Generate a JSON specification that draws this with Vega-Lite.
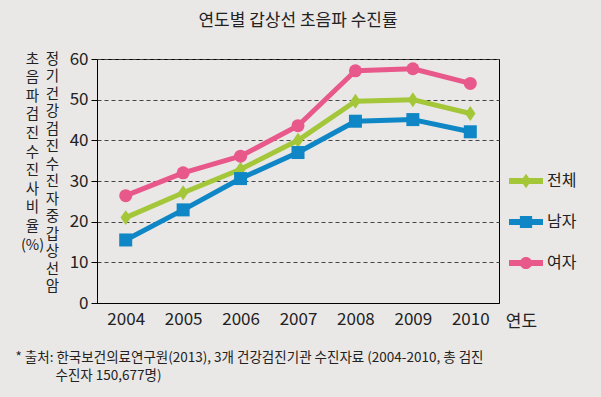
{
  "$schema": "https://vega.github.io/schema/vega-lite/v6.json",
  "width": 402,
  "height": 244,
  "autosize": {"type": "none"},
  "padding": {"left": 97, "top": 59, "right": 102, "bottom": 94},
  "background": "#e9e8e6",
  "title": {"text": "연도별 갑상선 초음파 수진률", "fontSize": 17, "font": "Noto Sans CJK KR", "fontWeight": "normal", "color": "#222222", "anchor": "middle", "offset": 20},
  "config": {"view": {"stroke": "#000000", "strokeWidth": 1}, "font": "Noto Sans CJK KR"},
  "data": {"values": [
    {"year": 2004, "group": "전체", "value": 21.0},
    {"year": 2005, "group": "전체", "value": 27.1},
    {"year": 2006, "group": "전체", "value": 32.9},
    {"year": 2007, "group": "전체", "value": 40.0},
    {"year": 2008, "group": "전체", "value": 49.6},
    {"year": 2009, "group": "전체", "value": 50.0},
    {"year": 2010, "group": "전체", "value": 46.6},
    {"year": 2004, "group": "남자", "value": 15.5},
    {"year": 2005, "group": "남자", "value": 22.9},
    {"year": 2006, "group": "남자", "value": 30.6},
    {"year": 2007, "group": "남자", "value": 37.0},
    {"year": 2008, "group": "남자", "value": 44.7},
    {"year": 2009, "group": "남자", "value": 45.1},
    {"year": 2010, "group": "남자", "value": 42.1},
    {"year": 2004, "group": "여자", "value": 26.4},
    {"year": 2005, "group": "여자", "value": 32.0},
    {"year": 2006, "group": "여자", "value": 36.1},
    {"year": 2007, "group": "여자", "value": 43.6},
    {"year": 2008, "group": "여자", "value": 57.1},
    {"year": 2009, "group": "여자", "value": 57.6},
    {"year": 2010, "group": "여자", "value": 54.0}
  ]},
  "layer": [
    {
      "mark": {"type": "line", "strokeWidth": 5, "strokeJoin": "round", "strokeCap": "round"},
      "encoding": {
        "x": {"field": "year", "type": "quantitative", "scale": {"domain": [2003.5, 2010.5], "nice": false, "zero": false},
          "axis": {"orient": "bottom", "values": [2004, 2005, 2006, 2007, 2008, 2009, 2010], "format": "d", "ticks": false, "grid": false, "domain": true, "domainColor": "#000000", "labelFontSize": 17, "labelColor": "#222222", "labelPadding": 8, "labelFlush": false, "labelOverlap": false,
            "title": "연도", "titleFontSize": 17, "titleFontWeight": "normal", "titleColor": "#222222", "titleX": 424, "titleY": 18, "titleBaseline": "middle", "titleAlign": "center", "titleAnchor": null}},
        "y": {"field": "value", "type": "quantitative", "scale": {"domain": [0, 60], "nice": false},
          "axis": {"orient": "left", "values": [0, 10, 20, 30, 40, 50, 60], "grid": true, "gridDash": [4, 3], "gridColor": "#444444", "gridWidth": 1, "tickSize": 6, "tickColor": "#000000", "domainColor": "#000000", "labelFontSize": 17, "labelPadding": 3, "labelColor": "#222222",
            "title": ["정", "기", "건", "강", "검", "진", "수", "진", "자", "중", "갑", "상", "선", "암"],
            "titleAngle": 0, "titleAlign": "center", "titleBaseline": "alphabetic", "titleX": -45, "titleY": 4, "titleLineHeight": 17.5, "titleFontSize": 14.5, "titleFontWeight": "normal", "titleColor": "#222222", "titleAnchor": null}},
        "color": {"field": "group", "type": "nominal", "scale": {"domain": ["전체", "남자", "여자"], "range": ["#a4c639", "#0f86c5", "#e8588a"]},
          "legend": {"orient": "none", "legendX": 412, "legendY": 105, "title": null, "direction": "vertical", "labelFontSize": 16, "labelColor": "#222222", "symbolSize": 1156, "symbolStrokeWidth": 0, "labelOffset": 4, "rowPadding": 16, "padding": 0, "symbolOpacity": 1,
            "encode": {"symbols": {"update": {"shape": {"signal": "datum.value === '전체' ? 'M-1,-0.17H1V0.17H-1Z M0,-0.42L0.3,0L0,0.42L-0.3,0Z' : datum.value === '남자' ? 'M-1,-0.17H1V0.17H-1Z M-0.36,-0.36H0.36V0.36H-0.36Z' : 'M-1,-0.17H1V0.17H-1Z M-0.36,0A0.36,0.36 0 1,1 0.36,0A0.36,0.36 0 1,1 -0.36,0Z'"}, "fill": {"scale": "color", "field": "value"}, "stroke": {"value": "transparent"}, "strokeWidth": {"value": 0}, "opacity": {"value": 1}}}}}}
      }
    },
    {
      "transform": [{"filter": "datum.group === '전체'"}],
      "mark": {"type": "point", "filled": true, "size": 169, "opacity": 1, "shape": "M0,-1.15L0.8,0L0,1.15L-0.8,0Z"},
      "encoding": {
        "x": {"field": "year", "type": "quantitative",
          "axis": {"orient": "bottom", "labels": false, "ticks": false, "domain": false, "grid": false,
            "title": "* 출처: 한국보건의료연구원(2013), 3개 건강검진기관 수진자료 (2004-2010, 총 검진",
            "titleAlign": "left", "titleAnchor": null, "titleX": -82, "titleY": 58, "titleBaseline": "alphabetic", "titleFontSize": 13.5, "titleFontWeight": "normal", "titleColor": "#222222"}},
        "y": {"field": "value", "type": "quantitative",
          "axis": {"orient": "left", "labels": false, "ticks": false, "domain": false, "grid": false,
            "title": ["초", "음", "파", "검", "진", "수", "진", "사", "비", "율", "(%)"],
            "titleAngle": 0, "titleAlign": "center", "titleBaseline": "alphabetic", "titleX": -65, "titleY": 4, "titleLineHeight": 18.6, "titleFontSize": 14.5, "titleFontWeight": "normal", "titleColor": "#222222", "titleAnchor": null}},
        "color": {"field": "group", "type": "nominal", "legend": null}
      }
    },
    {
      "transform": [{"filter": "datum.group === '남자'"}],
      "mark": {"type": "point", "filled": true, "size": 169, "opacity": 1, "shape": "square"},
      "encoding": {
        "x": {"field": "year", "type": "quantitative",
          "axis": {"orient": "bottom", "labels": false, "ticks": false, "domain": false, "grid": false,
            "title": "수진자 150,677명)",
            "titleAlign": "left", "titleAnchor": null, "titleX": -42, "titleY": 76, "titleBaseline": "alphabetic", "titleFontSize": 13.5, "titleFontWeight": "normal", "titleColor": "#222222"}},
        "y": {"field": "value", "type": "quantitative", "axis": null},
        "color": {"field": "group", "type": "nominal", "legend": null}
      }
    },
    {
      "transform": [{"filter": "datum.group === '여자'"}],
      "mark": {"type": "point", "filled": true, "size": 169, "opacity": 1, "shape": "circle"},
      "encoding": {
        "x": {"field": "year", "type": "quantitative", "axis": null},
        "y": {"field": "value", "type": "quantitative", "axis": null},
        "color": {"field": "group", "type": "nominal", "legend": null}
      }
    }
  ],
  "resolve": {"axis": {"x": "independent", "y": "independent"}}
}
